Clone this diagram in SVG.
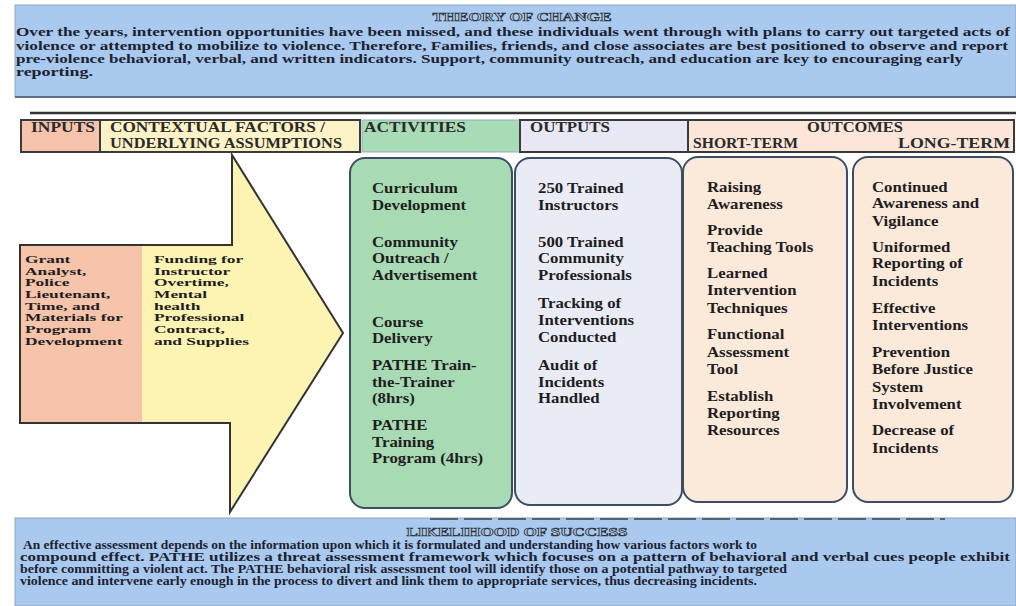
<svg xmlns="http://www.w3.org/2000/svg" width="1016" height="606" viewBox="0 0 1016 606">
<style>
  text { font-family: "Liberation Serif", "Times New Roman", serif; font-weight: bold; fill: #1c2230; }
  .para { font-size: 12px; }
  .ttl { font-size: 12.5px; fill: #b9cbe4; stroke: #2a3240; stroke-width: 0.7px; }
  .hdr { font-size: 15px; fill: #2a2a2a; }
  .col { font-size: 14px; fill: #1e1e22; }
  .inp { font-size: 11px; fill: #1e1e22; }
  .cell { stroke: #3a3a3a; stroke-width: 2; }
  .box { stroke: #3d4d66; stroke-width: 2; }
  .banner { fill: #a9c9ef; }
</style>

<g id="theory-of-change">
  <rect class="banner" x="15" y="5" width="1001" height="92" stroke="#8fa3bd" stroke-width="1"/>
  <line x1="15" y1="97" x2="1016" y2="97" stroke="#5e6e84" stroke-width="2"/>
  <text class="ttl" x="522" y="21" text-anchor="middle" textLength="179" lengthAdjust="spacingAndGlyphs">THEORY OF CHANGE</text>
  <text class="para" x="16" y="36" textLength="994" lengthAdjust="spacingAndGlyphs">Over the years, intervention opportunities have been missed, and these individuals went through with plans to carry out targeted acts of</text>
  <text class="para" x="16" y="50" textLength="992" lengthAdjust="spacingAndGlyphs">violence or attempted to mobilize to violence. Therefore, Families, friends, and close associates are best positioned to observe and report</text>
  <text class="para" x="16" y="63" textLength="947" lengthAdjust="spacingAndGlyphs">pre-violence behavioral, verbal, and written indicators. Support, community outreach, and education are key to encouraging early</text>
  <text class="para" x="16" y="76" textLength="77" lengthAdjust="spacingAndGlyphs">reporting.</text>
</g>

<line x1="30" y1="113" x2="1016" y2="113" stroke="#333" stroke-width="2.5"/>

<g id="header-row">
  <rect x="21" y="120" width="79" height="32" fill="#f7c3ad" class="cell"/>
  <rect x="100" y="120" width="260" height="32" fill="#fdf3c6" class="cell"/>
  <rect x="362" y="120" width="158" height="32" fill="#a7dcb6" stroke="#9ab" stroke-width="1"/>
  <rect x="520" y="120" width="168" height="32" fill="#e7e8f4" class="cell"/>
  <rect x="688" y="120" width="326" height="32" fill="#fbe6d9" class="cell"/>
  <text class="hdr" x="31" y="132" textLength="64" lengthAdjust="spacingAndGlyphs">INPUTS</text>
  <text class="hdr" x="110" y="132" textLength="215" lengthAdjust="spacingAndGlyphs">CONTEXTUAL FACTORS /</text>
  <text class="hdr" x="110" y="148" textLength="232" lengthAdjust="spacingAndGlyphs">UNDERLYING ASSUMPTIONS</text>
  <text class="hdr" x="364" y="132" textLength="102" lengthAdjust="spacingAndGlyphs" fill="#2c3a40">ACTIVITIES</text>
  <text class="hdr" x="530" y="132" textLength="80" lengthAdjust="spacingAndGlyphs">OUTPUTS</text>
  <text class="hdr" x="855" y="132" text-anchor="middle" textLength="96" lengthAdjust="spacingAndGlyphs">OUTCOMES</text>
  <text class="hdr" x="693" y="148" textLength="105" lengthAdjust="spacingAndGlyphs">SHORT-TERM</text>
  <text class="hdr" x="898" y="148" textLength="112" lengthAdjust="spacingAndGlyphs">LONG-TERM</text>
</g>

<g id="inputs-arrow">
  <polygon points="20,245 232,245 232,155 343,333 230,512 230,423 20,423" fill="#fdf4b4"/>
  <rect x="20" y="245" width="122" height="178" fill="#f6c3ab"/>
  <polygon points="20,245 232,245 232,155 343,333 230,512 230,423 20,423" fill="none" stroke="#333" stroke-width="2" stroke-linejoin="miter"/>
  <g transform="translate(25,0) scale(1.58,1)">
    <text class="inp" x="0" y="263">Grant</text>
    <text class="inp" x="0" y="275">Analyst,</text>
    <text class="inp" x="0" y="286">Police</text>
    <text class="inp" x="0" y="298">Lieutenant,</text>
    <text class="inp" x="0" y="310">Time, and</text>
    <text class="inp" x="0" y="321">Materials for</text>
    <text class="inp" x="0" y="333">Program</text>
    <text class="inp" x="0" y="345">Development</text>
  </g>
  <g transform="translate(154,0) scale(1.58,1)">
    <text class="inp" x="0" y="263">Funding for</text>
    <text class="inp" x="0" y="275">Instructor</text>
    <text class="inp" x="0" y="286">Overtime,</text>
    <text class="inp" x="0" y="298">Mental</text>
    <text class="inp" x="0" y="310">health</text>
    <text class="inp" x="0" y="321">Professional</text>
    <text class="inp" x="0" y="333">Contract,</text>
    <text class="inp" x="0" y="345">and Supplies</text>
  </g>
</g>

<g id="activities">
  <rect class="box" x="350" y="158" width="162" height="350" rx="15" fill="#a8dbb3"/>
  <g transform="translate(372,0) scale(1.2,1)">
    <text class="col" x="0" y="193">Curriculum</text>
    <text class="col" x="0" y="210">Development</text>
    <text class="col" x="0" y="247">Community</text>
    <text class="col" x="0" y="263">Outreach /</text>
    <text class="col" x="0" y="280">Advertisement</text>
    <text class="col" x="0" y="327">Course</text>
    <text class="col" x="0" y="343">Delivery</text>
    <text class="col" x="0" y="370">PATHE Train-</text>
    <text class="col" x="0" y="387">the-Trainer</text>
    <text class="col" x="0" y="403">(8hrs)</text>
    <text class="col" x="0" y="430">PATHE</text>
    <text class="col" x="0" y="447">Training</text>
    <text class="col" x="0" y="463">Program (4hrs)</text>
  </g>
</g>

<g id="outputs">
  <rect class="box" x="515" y="158" width="167" height="347" rx="15" fill="#e9ecf5"/>
  <g transform="translate(538,0) scale(1.2,1)">
    <text class="col" x="0" y="193">250 Trained</text>
    <text class="col" x="0" y="210">Instructors</text>
    <text class="col" x="0" y="247">500 Trained</text>
    <text class="col" x="0" y="263">Community</text>
    <text class="col" x="0" y="280">Professionals</text>
    <text class="col" x="0" y="308">Tracking of</text>
    <text class="col" x="0" y="325">Interventions</text>
    <text class="col" x="0" y="342">Conducted</text>
    <text class="col" x="0" y="370">Audit of</text>
    <text class="col" x="0" y="387">Incidents</text>
    <text class="col" x="0" y="403">Handled</text>
  </g>
</g>

<g id="short-term">
  <rect class="box" x="683" y="157" width="164" height="345" rx="15" fill="#fbe9da"/>
  <g transform="translate(707,0) scale(1.2,1)">
    <text class="col" x="0" y="192">Raising</text>
    <text class="col" x="0" y="209">Awareness</text>
    <text class="col" x="0" y="235">Provide</text>
    <text class="col" x="0" y="252">Teaching Tools</text>
    <text class="col" x="0" y="278">Learned</text>
    <text class="col" x="0" y="295">Intervention</text>
    <text class="col" x="0" y="313">Techniques</text>
    <text class="col" x="0" y="339">Functional</text>
    <text class="col" x="0" y="357">Assessment</text>
    <text class="col" x="0" y="374">Tool</text>
    <text class="col" x="0" y="401">Establish</text>
    <text class="col" x="0" y="418">Reporting</text>
    <text class="col" x="0" y="435">Resources</text>
  </g>
</g>

<g id="long-term">
  <rect class="box" x="853" y="157" width="160" height="345" rx="15" fill="#fbe9da"/>
  <g transform="translate(872,0) scale(1.2,1)">
    <text class="col" x="0" y="192">Continued</text>
    <text class="col" x="0" y="208">Awareness and</text>
    <text class="col" x="0" y="226">Vigilance</text>
    <text class="col" x="0" y="252">Uniformed</text>
    <text class="col" x="0" y="268">Reporting of</text>
    <text class="col" x="0" y="286">Incidents</text>
    <text class="col" x="0" y="313">Effective</text>
    <text class="col" x="0" y="330">Interventions</text>
    <text class="col" x="0" y="357">Prevention</text>
    <text class="col" x="0" y="374">Before Justice</text>
    <text class="col" x="0" y="392">System</text>
    <text class="col" x="0" y="409">Involvement</text>
    <text class="col" x="0" y="435">Decrease of</text>
    <text class="col" x="0" y="453">Incidents</text>
  </g>
</g>

<g id="connectors"></g>

<g id="likelihood-of-success">
  <rect class="banner" x="15" y="518" width="1001" height="88" stroke="#8fa3bd" stroke-width="1"/>
  <line x1="430" y1="519" x2="945" y2="519" stroke="#3a4250" stroke-width="1.5" stroke-dasharray="28 6"/>
  <text class="ttl" x="517" y="536" text-anchor="middle" textLength="221" lengthAdjust="spacingAndGlyphs">LIKELIHOOD OF SUCCESS</text>
  <text class="para" x="23" y="549" textLength="734" lengthAdjust="spacingAndGlyphs">An effective assessment depends on the information upon which it is formulated and understanding how various factors work to</text>
  <text class="para" x="20" y="561" textLength="990" lengthAdjust="spacingAndGlyphs">compound effect. PATHE utilizes a threat assessment framework which focuses on a pattern of behavioral and verbal cues people exhibit</text>
  <text class="para" x="20" y="573" textLength="767" lengthAdjust="spacingAndGlyphs">before committing a violent act. The PATHE behavioral risk assessment tool will identify those on a potential pathway to targeted</text>
  <text class="para" x="20" y="585" textLength="737" lengthAdjust="spacingAndGlyphs">violence and intervene early enough in the process to divert and link them to appropriate services, thus decreasing incidents.</text>
</g>
</svg>
